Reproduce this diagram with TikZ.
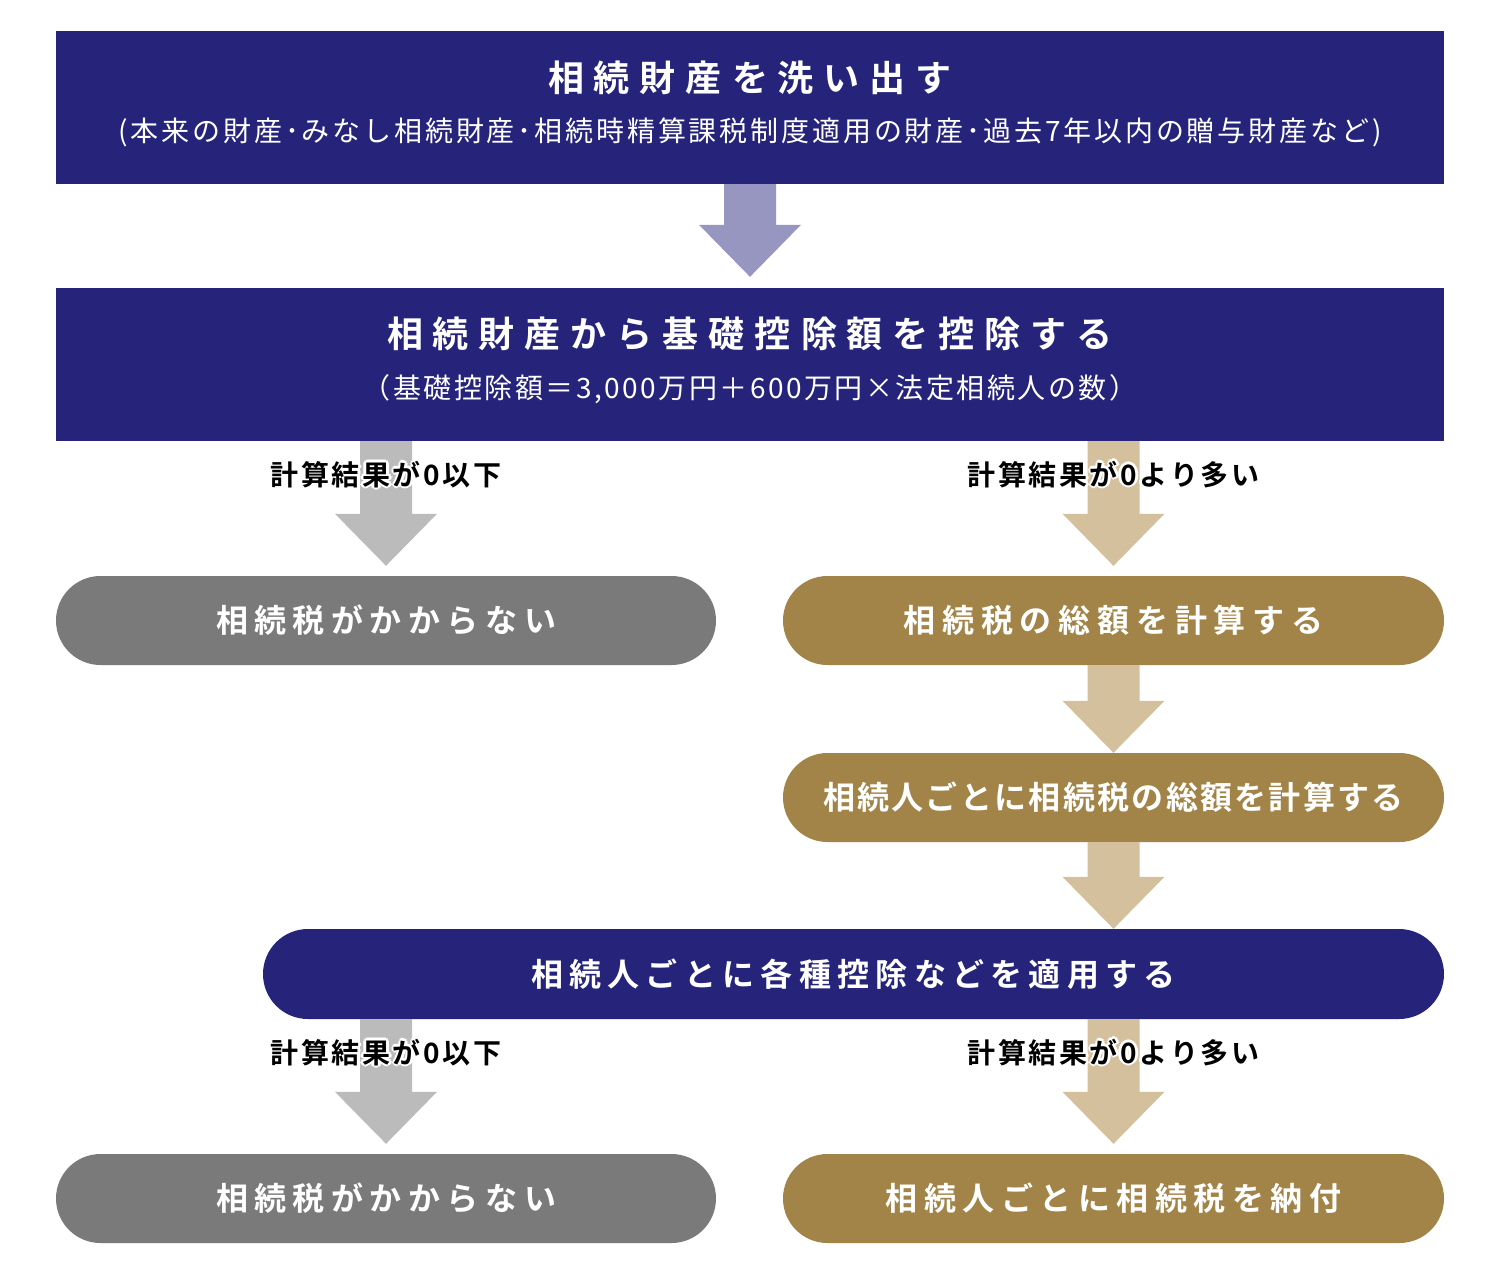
\documentclass[tikz,border=0pt]{standalone}
\usepackage{fontspec}
\setmainfont{Noto Sans CJK JP}[BoldFont={Noto Sans CJK JP Bold}]
\usetikzlibrary{calc}
\definecolor{navy}{RGB}{37,36,122}
\definecolor{lav}{RGB}{150,150,192}
\definecolor{garrow}{RGB}{187,187,187}
\definecolor{tarrow}{RGB}{212,192,157}
\definecolor{gfill}{RGB}{122,122,122}
\definecolor{tfill}{RGB}{163,132,72}
\makeatletter
\newcommand\trk[2]{\def\trk@sp{\hskip#1pt\relax}\trk@loop#2\trk@end}
\def\trk@end{\trk@end}
\def\trk@loop#1{\ifx#1\trk@end\unskip\else#1\trk@sp\expandafter\trk@loop\fi}
\makeatother
\newcommand\barrow[3]{%
  \fill[#1] ($(#2)+(-26,0)$) -- ($(#3)+(-26,-52)$) -- ($(#3)+(-51,-52)$) -- (#3)
    -- ($(#3)+(51,-52)$) -- ($(#3)+(26,-52)$) -- ($(#2)+(26,0)$) -- cycle;}
\newcommand\halolabel[3]{%
  \foreach \a in {0,45,...,315}{\node[lbl,text=white] at ($(#2)+(\a:2.6)$) {#3};}
  \node[lbl] (#1) at (#2) {#3};}
\tikzset{
  box/.style={rectangle,fill=navy,minimum width=1388pt,minimum height=153pt,inner sep=0pt},
  pill/.style={rectangle,rounded corners=44.5pt,minimum width=661pt,minimum height=89pt,inner sep=0pt},
  gpill/.style={pill,fill=gfill},
  tpill/.style={pill,fill=tfill},
  npill/.style={pill,fill=navy,minimum width=1181pt,minimum height=90pt,rounded corners=45pt},
  ttl/.style={anchor=base,inner sep=0pt,text=white,font=\fontsize{36}{40}\selectfont\bfseries},
  sub/.style={anchor=base,inner sep=0pt,text=white,font=\fontsize{28}{32}\selectfont},
  ptxt/.style={anchor=base,inner sep=0pt,text=white,font=\fontsize{32}{36}\selectfont\bfseries},
  lbl/.style={anchor=base,inner sep=0pt,text=black,font=\fontsize{28}{32}\selectfont\bfseries},
}
\begin{document}
\begin{tikzpicture}[x=1pt,y=-1pt]
\useasboundingbox[fill=white] (0,0) rectangle (1500,1280);
% boxes and pills
\node[box] (b1) at (750,107.5) {};
\node[box] (b2) at (750,364.5) {};
\node[gpill,minimum width=660pt] (lp1) at (386,620.5) {};
\node[tpill] (rp1) at (1113.5,620.5) {};
\node[tpill] (rp2) at (1113.5,797.5) {};
\node[npill] (np) at (853.5,974) {};
\node[gpill,minimum width=660pt] (lp2) at (386,1198.5) {};
\node[tpill] (rp3) at (1113.5,1198.5) {};
% arrow end points
\coordinate (a1s) at (b1.south);
\coordinate (a1t) at ($(b2.north)+(0,-11)$);
\coordinate (a2s) at (b2.south -| lp1.north);
\coordinate (a2t) at ($(lp1.north)+(0,-10)$);
\coordinate (a3s) at (b2.south -| rp1.north);
\coordinate (a3t) at ($(rp1.north)+(0,-10)$);
\coordinate (a4s) at (rp1.south);
\coordinate (a4t) at (rp2.north);
\coordinate (a5s) at (rp2.south);
\coordinate (a5t) at (np.north -| rp2.south);
\coordinate (a6s) at (np.south -| lp2.north);
\coordinate (a6t) at ($(lp2.north)+(0,-10)$);
\coordinate (a7s) at (np.south -| rp3.north);
\coordinate (a7t) at ($(rp3.north)+(0,-10)$);
\barrow{lav}{a1s}{a1t}
\barrow{garrow}{a2s}{a2t}
\barrow{tarrow}{a3s}{a3t}
\barrow{tarrow}{a4s}{a4t}
\barrow{tarrow}{a5s}{a5t}
\barrow{garrow}{a6s}{a6t}
\barrow{tarrow}{a7s}{a7t}
% texts
\node[ttl] (t1) at (750,91.7) {\trk{10}{相続財産を洗い出す}};
\node[sub] (s1) at (750,141.6) {\trk{2.85}{(本来の財産･みなし相続財産･相続時精算課税制度適用の財産･過去7年以内の贈与財産など)}};
\node[ttl] (t2) at (750,347.7) {\trk{10}{相続財産から基礎控除額を控除する}};
\node[sub] (s2) at (750,398.6) {\trk{2.5}{（基礎控除額＝3,000万円＋600万円×法定相続人の数）}};
\node[ptxt] (p1) at (386,632.7) {\trk{6.5}{相続税がかからない}};
\node[ptxt] (p2) at (1113.5,632.7) {\trk{6.8}{相続税の総額を計算する}};
\node[ptxt] (p3) at (1113.5,809.7) {\trk{2.3}{相続人ごとに相続税の総額を計算する}};
\node[ptxt] (p4) at (853.5,986.2) {\trk{6.3}{相続人ごとに各種控除などを適用する}};
\node[ptxt] (p5) at (386,1210.7) {\trk{6.5}{相続税がかからない}};
\node[ptxt] (p6) at (1113.5,1210.7) {\trk{6.5}{相続人ごとに相続税を納付}};
% labels
\coordinate (l1) at (386,485.1);
\coordinate (l2) at (1113.5,485.1);
\coordinate (l3) at (386,1063.1);
\coordinate (l4) at (1113.5,1063.1);
\halolabel{lab1}{l1}{\trk{2.5}{計算結果が0以下}}
\halolabel{lab2}{l2}{\trk{2.5}{計算結果が0より多い}}
\halolabel{lab3}{l3}{\trk{2.5}{計算結果が0以下}}
\halolabel{lab4}{l4}{\trk{2.5}{計算結果が0より多い}}
\end{tikzpicture}
\end{document}
